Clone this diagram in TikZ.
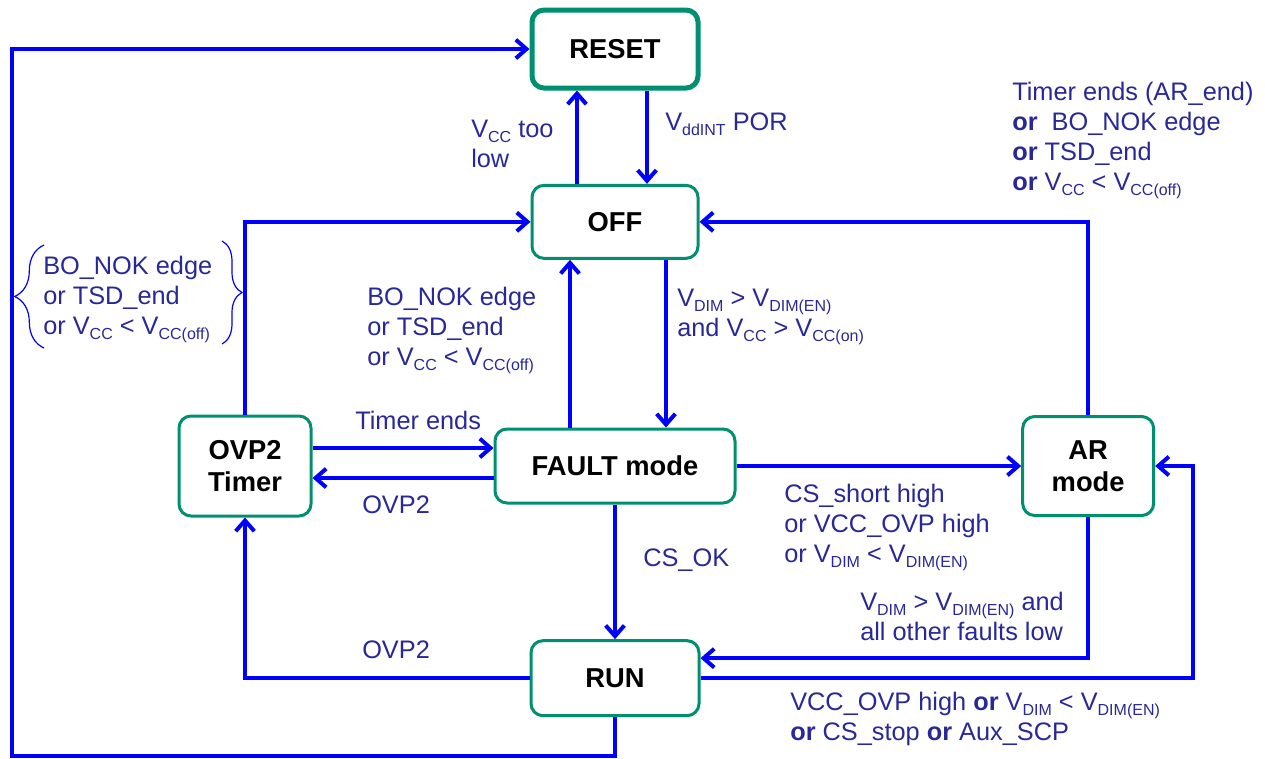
\documentclass[tikz,border=0pt]{standalone}
\usepackage{fontspec}
\setmainfont{Liberation Sans}
\usetikzlibrary{positioning,arrows.meta,decorations.pathreplacing}

\definecolor{stateline}{RGB}{0,143,112}
\definecolor{condtext}{RGB}{40,40,150}
\definecolor{flowblue}{RGB}{0,0,255}

\newcommand{\vsub}[1]{\raisebox{-3.5pt}{\fontsize{12}{12}\selectfont #1}}

\tikzset{
  state/.style={draw=stateline, line width=2.25pt, rounded corners=9pt, fill=white,
    align=center, inner sep=0pt, font=\fontsize{20.5}{24}\selectfont\bfseries},
  cond/.style={text=condtext, align=left, anchor=north west, inner sep=0pt,
    font=\fontsize{19}{22.5}\selectfont},
  flow/.style={draw=flowblue, line width=3pt, -{Straight Barb[length=8pt,width=14pt]}},
  brk/.style={draw=flowblue, line width=0.9pt, decorate},
}

\begin{document}
\begin{tikzpicture}[x=0.75pt, y=-0.75pt]
    \useasboundingbox (0,0) rectangle (1265,758);

    \node[state, line width=3.75pt, minimum width=124.5pt, minimum height=58.5pt] (reset) at (615,49) {RESET};
    \node[state, minimum width=124.5pt, minimum height=54.75pt, below=70pt of reset]  (off)   {OFF};
    \node[state, minimum width=180pt, minimum height=55.5pt, below=125.75pt of off]   (fault) {FAULT mode};
    \node[state, minimum width=126pt, minimum height=56.25pt, below=101pt of fault]   (run)   {RUN};
    \node[state, minimum width=99pt, minimum height=75pt, left=135.75pt of fault]     (ovp)   {OVP2\\Timer};
    \node[state, minimum width=98.25pt, minimum height=74.25pt, right=213.5pt of fault] (ar)  {AR\\mode};
    \coordinate (lowleft) at (12,756);

    \draw[flow] ([xshift=24pt]reset.south) -- ([xshift=24pt]off.north);
    \draw[flow] ([xshift=-28.5pt]off.north) -- ([xshift=-28.5pt]reset.south);
    \draw[flow] ([xshift=-33.75pt]fault.north) -- ([xshift=-33.75pt]off.south);
    \draw[flow] ([xshift=38.25pt]off.south) -- ([xshift=38.25pt]fault.north);
    \draw[flow] (fault.south) -- (run.north);
    \draw[flow] ([yshift=13.5pt]ovp.east) -- ([yshift=13.5pt]fault.west);
    \draw[flow] ([yshift=-9pt]fault.west) -- ([yshift=-9pt]ovp.east);
    \draw[flow] (fault.east) -- (ar.west);
    \draw[flow] (ovp.north) |- (off.west);
    \draw[flow] (ar.north) |- (off.east);
    \draw[flow] (ar.south) |- ([yshift=15pt]run.east);
    \draw[flow] (run.east) -| ([xshift=28pt]ar.east) -- (ar.east);
    \draw[flow] (run.west) -| (ovp.south);
    \draw[flow] (run.south) |- (lowleft) |- (reset.west);

    \draw[brk, decoration={brace, amplitude=22pt}] (44,348) -- (44,245);
    \draw[brk, decoration={brace, amplitude=15pt}] (222,241) -- (222,344);

    \node[cond] (toolow)   at (471,120)  {V\vsub{CC} too\\low};
    \node[cond] (por)      at (665,113)  {V\vsub{ddINT} POR};
    \node[cond] (arend)    at (1012,82)  {Timer ends (AR\_end)\\\textbf{or}\ \ BO\_NOK edge\\\textbf{or} TSD\_end\\\textbf{or} V\vsub{CC} < V\vsub{CC(off)}};
    \node[cond] (ovpoff)   at (43,256)   {BO\_NOK edge\\or TSD\_end\\or V\vsub{CC} < V\vsub{CC(off)}};
    \node[cond] (faultoff) at (367,287)  {BO\_NOK edge\\or TSD\_end\\or V\vsub{CC} < V\vsub{CC(off)}};
    \node[cond] (dimon)    at (677,289)  {V\vsub{DIM} > V\vsub{DIM(EN)}\\and V\vsub{CC} > V\vsub{CC(on)}};
    \node[cond] (timerend) at (355,411)  {Timer ends};
    \node[cond] (ovpup)    at (362,496)  {OVP2};
    \node[cond] (csshort)  at (784,484)  {CS\_short high\\or VCC\_OVP high\\or V\vsub{DIM} < V\vsub{DIM(EN)}};
    \node[cond] (csok)     at (643,549)  {CS\_OK};
    \node[cond] (dimrun)   at (860,592)  {V\vsub{DIM} > V\vsub{DIM(EN)} and\\all other faults low};
    \node[cond] (ovplow)   at (362,641)  {OVP2};
    \node[cond] (vccovp)   at (790,692)  {VCC\_OVP high \textbf{or} V\vsub{DIM} < V\vsub{DIM(EN)}\\\textbf{or} CS\_stop \textbf{or} Aux\_SCP};
\end{tikzpicture}
\end{document}
